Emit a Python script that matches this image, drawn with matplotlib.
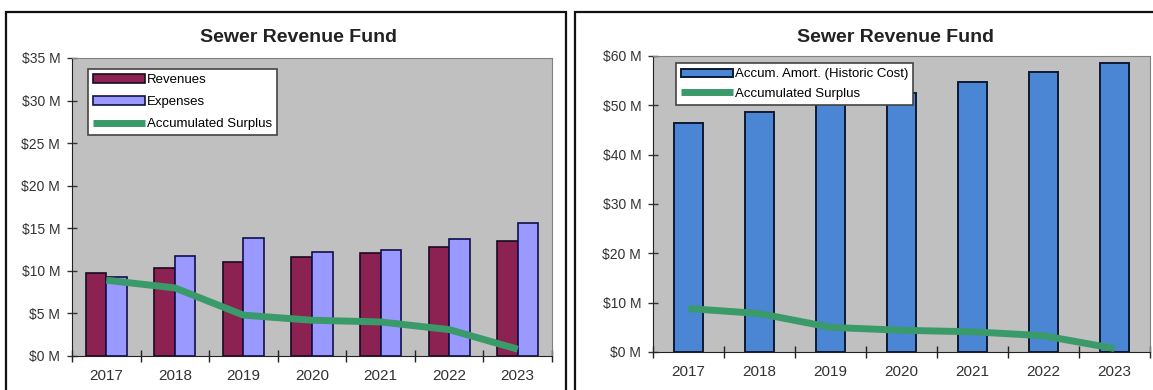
import matplotlib.pyplot as plt
import numpy as np
from matplotlib.patches import Rectangle
from matplotlib.ticker import FuncFormatter, MultipleLocator, FixedLocator

years = ['2017', '2018', '2019', '2020', '2021', '2022', '2023']
revenues = [9.8, 10.3, 11.0, 11.6, 12.1, 12.8, 13.5]
expenses = [9.25, 11.75, 13.9, 12.25, 12.4, 13.7, 15.65]
surplus = [8.9, 8.0, 4.8, 4.2, 4.0, 3.1, 0.8]
accum_amort = [46.5, 48.7, 50.8, 52.6, 54.8, 56.7, 58.6]
surplus_r = [8.8, 7.8, 5.0, 4.4, 4.1, 3.3, 0.7]

plt.rcParams['font.family'] = ['Liberation Sans', 'DejaVu Sans']

W, H = 1153, 390
fig = plt.figure(figsize=(W / 100, H / 100), dpi=100)
fig.patch.set_facecolor('white')

# panel frames
for x0, x1 in [(6, 566), (575, 1160)]:
    fig.patches.append(Rectangle((x0 / W, -0.05), (x1 - x0) / W, (H - 12) / H + 0.05,
                                 transform=fig.transFigure, fill=False,
                                 edgecolor='#111111', linewidth=1.6))

x = np.arange(len(years))
money = FuncFormatter(lambda v, p: '$%d M' % v)


def style(ax, ymax, ystep):
    ax.set_facecolor('#c0c0c0')
    ax.set_xlim(-0.5, 6.5)
    ax.set_ylim(0, ymax)
    ax.yaxis.set_major_locator(MultipleLocator(ystep))
    ax.yaxis.set_major_formatter(money)
    ax.xaxis.set_major_locator(FixedLocator(np.arange(-0.5, 7, 1.0)))
    ax.xaxis.set_major_formatter(plt.NullFormatter())
    ax.set_xticks(x, minor=True)
    ax.set_xticklabels(years, minor=True)
    ax.tick_params(axis='x', which='major', direction='inout', length=8, width=1, color='#222222')
    ax.tick_params(axis='x', which='minor', length=0, pad=9, labelsize=11, labelcolor='#333333')
    ax.tick_params(axis='y', direction='inout', length=7, width=1, color='#333333',
                   labelsize=10, labelcolor='#333333', pad=5)
    for s in ['top', 'right']:
        ax.spines[s].set_color('#808080')
    for s in ['left', 'bottom']:
        ax.spines[s].set_color('#222222')


def legend(ax, handles, anchor, spacing):
    leg = ax.legend(handles=handles, loc='upper left', bbox_to_anchor=anchor, fontsize=9.5,
                    handlelength=3.9, handleheight=0.6, fancybox=False, framealpha=1,
                    edgecolor='#444444', borderpad=0.4, labelspacing=spacing,
                    handletextpad=0.15, borderaxespad=0)
    leg.get_frame().set_linewidth(1.2)


# left chart
ax1 = fig.add_axes([72 / W, (H - 356) / H, 480 / W, 298 / H])
bw = 0.3
b1 = ax1.bar(x - bw / 2, revenues, bw, color='#8b2252', edgecolor='#1a0a20', linewidth=1.2, label='Revenues')
b2 = ax1.bar(x + bw / 2, expenses, bw, color='#9999ff', edgecolor='#10104a', linewidth=1.2, label='Expenses')
l1, = ax1.plot(x, surplus, color='#3a9a6a', linewidth=5, label='Accumulated Surplus', solid_capstyle='butt')
style(ax1, 35, 5)
legend(ax1, [b1, b2, l1], (0.033, 0.963), 0.75)
fig.text(298 / W, 1 - 38 / H, 'Sewer Revenue Fund', ha='center', va='center',
         fontsize=14, fontweight='bold', color='#222222')

# right chart
ax2 = fig.add_axes([653 / W, (H - 352) / H, 497 / W, 296 / H])
b3 = ax2.bar(x, accum_amort, 0.42, color='#4a86d4', edgecolor='#0d1a33', linewidth=1.4,
             label='Accum. Amort. (Historic Cost)')
l2, = ax2.plot(x, surplus_r, color='#3a9a6a', linewidth=5, label='Accumulated Surplus', solid_capstyle='butt')
style(ax2, 60, 10)
legend(ax2, [b3, l2], (0.046, 0.976), 0.55)
fig.text(895 / W, 1 - 38 / H, 'Sewer Revenue Fund', ha='center', va='center',
         fontsize=14, fontweight='bold', color='#222222')

fig.savefig('out.png', dpi=100)
